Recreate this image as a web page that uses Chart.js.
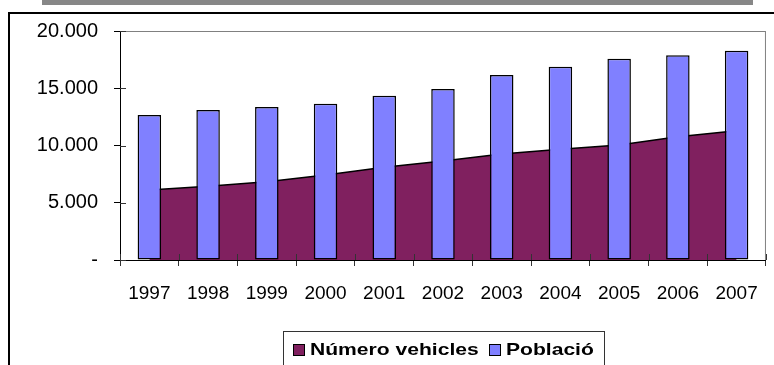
<!DOCTYPE html>
<html>
<head>
<meta charset="utf-8">
<title>Vehicles i població</title>
<script src="https://cdn.jsdelivr.net/npm/chart.js@4.4.0/dist/chart.umd.min.js"></script>
<style>
  html, body { margin: 0; padding: 0; width: 774px; height: 365px; overflow: hidden; background: #fff; }
  #banda { position: absolute; left: 42px; top: 0; width: 711px; height: 5px; background: #878787; }
  #marc { position: absolute; left: 8px; top: 12px; width: 800px; height: 400px; border-left: 2px solid #000; border-top: 2px solid #000; }
  #grafic { position: absolute; left: 0; top: 0; }
  #llegenda { position: absolute; left: 283px; top: 331px; width: 320px; height: 40px; border: 1px solid #333;
              font: bold 17px "Liberation Sans", Arial, sans-serif; color: #000; }
  #llegenda .item { position: absolute; top: 0; height: 36px; display: flex; align-items: center; }
  #llegenda .quadre { width: 10px; height: 10px; border: 1px solid #000; margin-right: 5px; }
  #llegenda .text { display: inline-block; transform: scaleX(1.24); transform-origin: left center; white-space: nowrap; }
</style>
</head>
<body>
<div id="banda"></div>
<div id="marc"></div>
<canvas id="grafic" width="774" height="365"></canvas>
<div id="llegenda"></div>

<script>
// anys i sèries
const anys = ['1997', '1998', '1999', '2000', '2001', '2002', '2003', '2004', '2005', '2006', '2007'];
const vehicles = [6110, 6450, 6840, 7420, 8110, 8650, 9260, 9670, 10040, 10760, 11280];
const poblacio = [12660, 13100, 13360, 13650, 14350, 14940, 16160, 16880, 17580, 17880, 18280];

// eix vertical
const valorsEix = [0, 5000, 10000, 15000, 20000];
const etiquetesEix = ['-', '5.000', '10.000', '15.000', '20.000'];

const lletra = '"Liberation Sans", Arial, sans-serif';

// vora grisa de l'àrea de traçat i marques que creuen els eixos
const marcTraçat = {
  id: 'marcTracat',
  beforeDraw(chart) {
    const a = chart.chartArea, c = chart.ctx;
    c.save();
    c.strokeStyle = '#808080';
    c.lineWidth = 1;
    c.strokeRect(a.left + 0.5, a.top + 0.5, a.right - a.left - 1, a.bottom - a.top);
    c.restore();
  },
  afterDatasetsDraw(chart) {
    const a = chart.chartArea, c = chart.ctx;
    const n = chart.data.labels.length;
    const pas = (a.right - a.left) / n;
    c.save();
    c.strokeStyle = '#333';
    c.lineWidth = 1;
    c.beginPath();
    for (let i = 0; i <= n; i++) {
      const x = Math.round(a.left + i * pas) + 0.5;
      c.moveTo(x, a.bottom - 6);
      c.lineTo(x, a.bottom);
    }
    const y = chart.scales.y;
    valorsEix.forEach(v => {
      const py = Math.round(y.getPixelForValue(v)) + 0.5;
      c.moveTo(a.left, py);
      c.lineTo(a.left + 6, py);
    });
    c.stroke();
    c.restore();
  }
};

const ctx = document.getElementById('grafic');
const grafic = new Chart(ctx, {
  type: 'bar',
  data: {
    labels: anys,
    datasets: [
      {
        type: 'line',
        label: 'Número vehicles',
        data: vehicles,
        order: 2,
        fill: 'origin',
        backgroundColor: '#80205F',
        borderColor: '#000',
        borderWidth: 1.5,
        pointRadius: 0,
        tension: 0
      },
      {
        type: 'bar',
        label: 'Població',
        data: poblacio,
        order: 1,
        backgroundColor: '#8080FF',
        borderColor: '#000',
        borderWidth: 1.5,
        borderSkipped: false,
        categoryPercentage: 0.4,
        barPercentage: 1
      }
    ]
  },
  options: {
    responsive: false,
    animation: false,
    events: [],
    layout: { padding: { top: 31, right: 6, bottom: 65, left: 0 } },
    plugins: {
      legend: { display: false },
      tooltip: { enabled: false }
    },
    scales: {
      x: {
        offset: true,
        grid: { offset: true, drawOnChartArea: false, drawTicks: true, tickLength: 6, color: '#333' },
        border: { color: '#000', width: 1 },
        ticks: { color: '#000', font: { family: lletra, size: 19 }, padding: 16, maxRotation: 0, autoSkip: false },
        afterFit(s) { s.height = 40; }
      },
      y: {
        min: 0,
        max: 20000,
        grid: { drawOnChartArea: false, drawTicks: true, tickLength: 6, color: '#000' },
        border: { color: '#000', width: 1 },
        ticks: {
          color: '#000',
          font: { family: lletra, size: 20 },
          padding: 16,
          callback: (v, i) => etiquetesEix[i]
        },
        afterBuildTicks(s) { s.ticks = valorsEix.map(v => ({ value: v })); },
        afterFit(s) { s.width = 120; }
      }
    }
  },
  plugins: [marcTraçat]
});

// llegenda en caixa, a partir dels conjunts de dades
const llegenda = document.getElementById('llegenda');
const posicions = [9, 205];
grafic.data.datasets.forEach((ds, i) => {
  const item = document.createElement('div');
  item.className = 'item';
  item.style.left = posicions[i] + 'px';
  const q = document.createElement('span');
  q.className = 'quadre';
  q.style.background = ds.backgroundColor;
  const t = document.createElement('span');
  t.className = 'text';
  t.textContent = ds.label;
  item.appendChild(q);
  item.appendChild(t);
  llegenda.appendChild(item);
});
</script>
</body>
</html>
